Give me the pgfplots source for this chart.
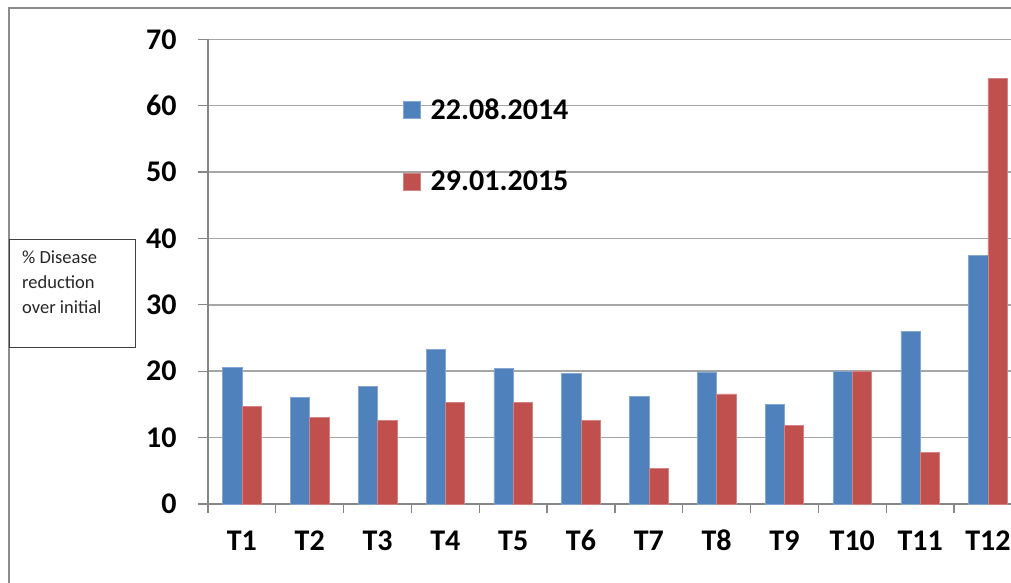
\documentclass[border=0pt]{standalone}
\usepackage{pgfplots}
\pgfplotsset{compat=1.18}
\usepackage{fontspec}
\setmainfont{Carlito}
\definecolor{sblue}{HTML}{4F81BD}
\definecolor{sred}{HTML}{C0504D}
\definecolor{gridc}{HTML}{A6A6A6}
\definecolor{axc}{HTML}{868686}
\definecolor{framec}{HTML}{8C8C8C}
\begin{document}
\begin{tikzpicture}[x=1pt,y=1pt]
\useasboundingbox (0,0) rectangle (1011,582);
% outer frame (left and top edges visible)
\draw[framec, line width=2pt] (9,-2) -- (9,574) -- (1015,574);
% y label box
\draw[black!75, line width=0.8pt] (9,235) rectangle (135,343);
\node[anchor=north west, align=left, inner sep=0pt, text=black!85,
      font=\fontsize{18.5}{25}\selectfont] at (22,331)
  {\% Disease\\reduction\\over initial};
\begin{axis}[
  at={(208pt,78pt)}, anchor=south west,
  scale only axis,
  width=803pt, height=464.7pt,
  ymin=0, ymax=70, ytick={0,10,...,70},
  xmin=-0.5, xmax=11.34,
  xtick={0,...,11},
  xticklabels={T1,T2,T3,T4,T5,T6,T7,T8,T9,T10,T11,T12},
  minor xtick={-0.5,0.5,...,10.5},
  axis x line*=bottom, axis y line*=left,
  axis line style={axc, line width=1.3pt, -},
  tick align=outside,
  major tick length=10pt,
  minor tick length=9pt,
  major x tick style={draw=none},
  minor x tick style={axc, line width=1.3pt},
  y tick style={axc, line width=1.3pt},
  ymajorgrids,
  grid style={gridc, line width=1.5pt},
  /pgf/number format/assume math mode=true,
  ticklabel style={font=\bfseries\fontsize{30}{32}\selectfont},
  yticklabel style={xshift=-18pt},
  xticklabel style={text height=21pt, text depth=7pt, yshift=-12pt},
  ybar=0pt, bar width=19.3pt,
  legend style={at={(0.239,0.881)}, anchor=north west, draw=none, fill=none,
    font=\bfseries\fontsize{30}{32}\selectfont, row sep=46pt},
  legend cell align=left,
  legend image code/.code={\fill[#1] (0pt,-8.5pt) rectangle (17pt,8.5pt); \path (25pt,0pt);},
]
\addplot[fill=sblue, draw=sblue!70!white, line width=0.6pt] coordinates {
(0,20.6) (1,16.0) (2,17.7) (3,23.3) (4,20.4) (5,19.7)
(6,16.2) (7,19.9) (8,15.0) (9,20.0) (10,26.0) (11,37.4)};
\addlegendentry{22.08.2014}
\addplot[fill=sred, draw=sred!70!white, line width=0.6pt] coordinates {
(0,14.7) (1,13.1) (2,12.6) (3,15.3) (4,15.3) (5,12.6)
(6,5.4) (7,16.6) (8,11.8) (9,20.0) (10,7.8) (11,64.1)};
\addlegendentry{29.01.2015}
\end{axis}
\end{tikzpicture}
\end{document}
